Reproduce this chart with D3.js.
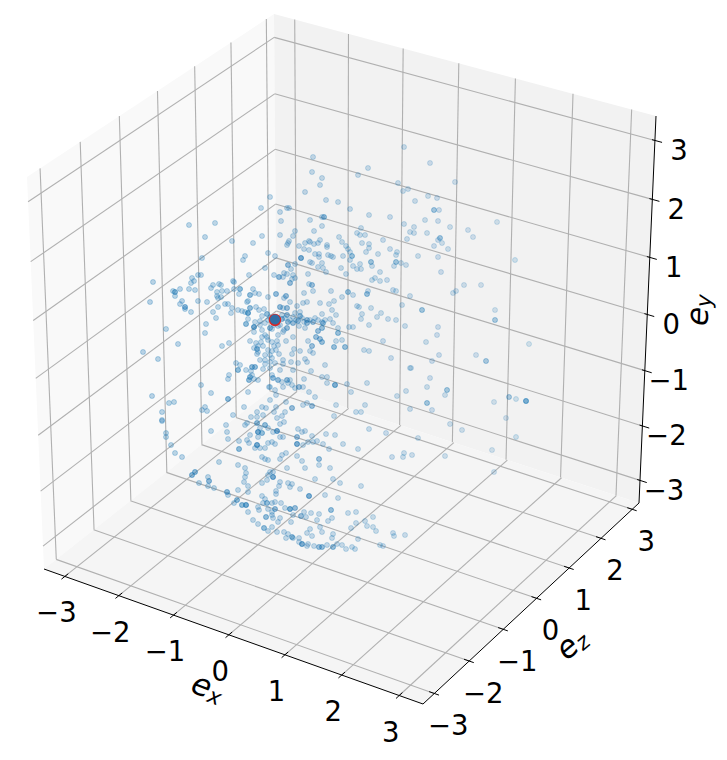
<!DOCTYPE html>
<html>
<head>
<meta charset="utf-8">
<style>
    html, body { margin: 0; background: #fff; }
    text { font-family: "DejaVu Sans", sans-serif; fill: #000; }
</style>
<script src="https://cdn.jsdelivr.net/npm/d3@7/dist/d3.min.js"></script>
</head>
<body>
<svg id="chart" width="727" height="760"></svg>
<script>
// Axis values
var xTicks = [-3, -2, -1, 0, 1, 2, 3];
var yTicks = [-3, -2, -1, 0, 1, 2, 3];
var zTicks = [-3, -2, -1, 0, 1, 2, 3];
var xLimits = [-3.39, 3.41];
var yLimits = [-3.42, 3.41];
var zLimits = [-3.32, 3.22];

// The picture only shows the cloud after projection, so points are read as
// [viewX, viewY, overlapCount] in the projected plane of the camera
var cloudUpperLeft = [[-1.51,1.15],[-1.25,1.17],[-1.35,1.03],[-.79,1.32],[-.70,1.43],[-1.08,.99],[-.87,.97],[-.78,1.04],[-.72,.87],[-.95,.84],[-.97,.80],[-1.38,.82],[-.75,.72],[-.91,.65],[-1.48,.62],[-1.42,.65],[-1.39,.65],[-1.07,.59]];

var cloudUpperMiddle = [[-.27,1.83],[.64,1.93],[-.28,1.68],[-.18,1.62],[-.20,1.55],[.18,1.65],[.28,1.72],[.58,1.57],[.68,1.51],[.63,1.49],[-.35,1.48],[-.14,1.40],[-.02,1.38],[.10,1.31],[-.53,1.32],[-.51,1.32],[-.60,1.28],[-.59,1.19],[-.30,1.20],[-.18,1.23],[-.16,1.23,2],[.29,1.25],[.50,1.23],[.64,1.16],[-.18,1.14],[-.26,1.09],[-.45,1.09],[-.47,1.04],[-.60,1.05],[.21,1.12],[.17,1.07],[.20,1.05],[.25,1.05],[-.01,1.03],[.70,1.08],[.67,1.01],[.43,1.00],[-.51,.99],[-.53,.95],[-.52,.97],[-.35,.97],[-.31,.99],[-.30,.98],[-.26,.96],[-.22,.97],[-.20,1.00],[-.13,.95],[-.13,.93],[-.41,.94],[.02,.98],[.06,.94],[.08,.91],[.22,.97],[.29,.96],[.29,.92],[.50,.91],[.26,.88],[-.36,.91],[-.31,.90],[-.25,.86],[-.21,.86],[-.21,.83],[-.12,.85],[-.09,.84],[-.07,.83],[.03,.84],[.10,.88],[.12,.84,2],[.10,.80],[.38,.86],[.57,.88],[.56,.85],[-.65,.84],[-.39,.82,3],[-.30,.78],[-.28,.77],[-.18,.77],[-.22,.73],[-.17,.72],[-.14,.68],[.01,.72],[.13,.74],[.20,.76],[.31,.78,2],[.32,.74],[.56,.78,2],[.54,.74],[.61,.77],[.66,.75],[.17,.71],[.21,.71],[.06,.66],[-.32,.66],[-.52,.75,2],[-.45,.76],[-.49,.71],[-.56,.67],[-.53,.66],[-.47,.65],[-.66,.65],[-.61,.63,2],[-.57,.63],[-.48,.61],[-.45,.62],[.40,.68],[.35,.62],[.32,.60],[.47,.60]];

var cloudUpperRight = [[.90,1.77],[1.15,1.58],[.88,1.44],[.97,1.42],[.75,1.39],[.94,1.30,2],[.99,1.30],[.85,1.20],[.98,1.19],[1.10,1.13],[1.28,1.10],[1.57,1.18],[.74,1.13],[.74,1.07],[.87,1.07],[1.33,1.03],[1.00,1.02,2],[.98,1.00],[1.02,.97],[.94,.94],[1.08,.91],[.78,.84],[.98,.83],[1.75,.80],[1.01,.68]];

var cloudMiddleLeft = [[-1.87,.58],[-1.90,.38],[-1.67,.49],[-1.65,.48,2],[-1.65,.44],[-1.60,.51],[-1.51,.51],[-1.49,.57],[-1.46,.59],[-1.45,.50],[-1.58,.39],[-1.60,.36],[-1.55,.33,2],[-1.55,.31],[-1.49,.28],[-1.42,.39],[-1.33,.38],[-1.29,.52],[-1.27,.55],[-1.21,.56],[-1.19,.55],[-1.23,.48],[-1.18,.49],[-1.13,.49],[-1.23,.44],[-1.22,.42],[-1.19,.43],[-1.22,.33],[-1.15,.36],[-1.12,.36],[-1.27,.28],[-1.24,.22],[-1.34,.16],[-1.35,.07],[-1.74,.11],[-1.62,-.04],[-1.97,-.12],[-1.82,-.19],[-1.18,-.06],[-1.11,-.03],[-1.06,.58],[-1.06,.51],[-1.01,.46],[-1.00,.51,2],[-.90,.45,2],[-.87,.51],[-.85,.47],[-.81,.46],[-.93,.38],[-.92,.39],[-1.08,.32],[-1.09,.27],[-1.02,.30],[-.98,.29],[-.95,.28],[-.92,.27,3],[-.90,.32,2],[-.84,.33],[-.81,.30],[-.76,.31],[-.72,.43],[-.73,.26,2],[-.78,.24],[-.70,.23],[-.92,.21],[-.94,.16,2],[-.85,.18],[-.86,.13,3],[-.80,.19],[-.86,.08],[-.70,.12,2],[-.90,-.01],[-.78,.03],[-.73,.03],[-.79,-.02],[-.84,-.03],[-.82,-.06],[-.86,-.08],[-.83,-.09,2],[-.77,-.06],[-.83,-.14],[-.82,-.12],[-.75,-.15],[-.80,-.20],[-.70,-.15],[-1.04,-.23],[-1.00,-.25],[-1.02,-.30,2],[-.94,-.30],[-.88,-.27,2],[-.85,-.27,2],[-.89,-.31],[-.75,-.24],[-.77,-.29],[-.70,-.28],[-1.11,-.35],[-1.12,-.39],[-.90,-.37,2],[-.91,-.40,2],[-.86,-.39],[-.82,-.40],[-.88,-.35],[-1.39,-.45],[-1.29,-.53],[-.92,-.52],[-.71,-.47],[-1.88,-.56],[-1.66,-.62],[-1.71,-.63],[-1.12,-.59,2],[-1.35,-.67],[-1.38,-.70],[-1.33,-.71],[-1.78,-.72],[-.96,-.67],[-1.07,-.75],[-.83,-.72],[-.78,-.67],[-.74,-.68],[-.89,-.77],[-.77,-.75],[-.83,-.77],[-1.78,-.80]];

var cloudCenter = [[-.50,.57,2],[-.64,.46,2],[-.54,.44,2],[-.56,.42],[-.60,.33,2],[-.57,.32],[-.53,.32,2],[-.50,.38],[-.43,.34],[-.36,.47],[-.27,.49],[-.31,.56],[-.28,.55,2],[-.37,.37],[-.33,.38],[-.20,.37],[-.09,.49],[.02,.43],[.08,.48,2],[.13,.45],[.28,.49],[.27,.46,2],[.40,.59],[.53,.50],[.56,.49],[.62,.35],[-.11,.36],[-.06,.39],[-.08,.30],[-.04,.25],[-.07,.17],[-.18,.26],[-.10,.21],[.17,.34],[.19,.33],[.22,.26],[.21,.21],[.31,.32],[.41,.27],[.37,.23],[.48,.21],[.56,.20],[.29,.15],[.65,.14],[.09,.13],[.13,.13],[-.02,.12],[-.02,.07,2],[-.17,.17,2],[-.18,.12,2],[-.22,.09,2],[-.24,.03,2],[-.20,.01,2],[-.18,-.02,2],[-.27,.18,2],[-.33,.20,2],[-.40,.24,2],[-.42,.19,2],[-.47,.17,2],[-.53,.25,2],[-.52,.18,2],[-.58,.21,2],[-.33,.17,2],[-.41,.14],[-.35,.12],[-.53,.12,2],[-.57,.08],[-.62,.05],[-.68,.11],[-.47,.03],[-.54,-.01],[-.63,-.01],[-.66,-.06],[-.32,-.01],[-.28,-.06,2],[-.06,-.07,2],[.05,-.07,2],[.02,0],[-.04,-.01],[.43,-.01],[.24,-.10],[.29,-.11],[.51,-.18],[.70,-.28],[-.30,-.11],[-.27,-.13],[-.40,-.11],[-.46,-.09],[-.48,-.14],[-.61,-.14],[-.68,-.11],[-.68,-.18],[-.65,-.23],[-.57,-.20],[-.57,-.24],[-.49,-.22],[-.42,-.23],[-.35,-.19],[-.33,-.22],[-.15,-.25],[-.29,-.31],[-.60,-.30],[-.68,-.35],[-.67,-.38,2],[-.47,-.30],[-.62,-.40,2],[-.58,-.42],[-.53,-.40,2],[-.52,-.43],[-.50,-.40],[-.57,-.47],[-.48,-.45],[-.45,-.48],[-.41,-.47,2],[-.37,-.47],[-.36,-.39],[-.18,-.37],[-.13,-.37],[-.13,-.43],[-.05,-.45,3],[.07,-.44],[.27,-.43],[.11,-.52],[-.31,-.52],[-.25,-.57],[.57,-.56],[.66,-.51],[-.37,-.65],[-.33,-.63],[-.28,-.66,2],[-.54,-.62],[-.48,-.68,2],[-.64,-.67],[-.66,-.72],[-.55,-.72],[-.58,-.76],[-.63,-.78],[-.04,-.65],[.25,-.65],[.16,-.72],[.21,-.72],[-.06,-.76],[-.70,-.47],[-.70,-.60],[-.65,-.50],[-.64,-.55]];

var cloudDenseBand = [[-.58,.25],[-.55,.22],[-.50,.20],[-.47,.23],[-.44,.20],[-.38,.22],[-.36,.18],[-.30,.20],[-.25,.22],[-.22,.20],[-.18,.18],[-.15,.20],[-.45,.27],[-.40,.28],[-.60,.15],[-.56,.10],[-.62,.14],[-.66,.15],[-.72,.20],[-.75,.17],[-.80,.15],[-.78,.10],[-.75,.05],[-.72,0],[-.68,-.02],[-.62,-.05],[-.72,-.10],[-.75,-.20],[-.70,-.22],[-.64,-.10]];

var cloudMiddleRight = [[.70,.44],[.82,.30,2],[1.13,.47],[1.16,.49],[1.24,.55],[1.41,.55],[1.55,.30],[1.55,.20,2],[.98,.13],[.97,.05],[.86,-.02],[1.89,-.04],[.99,-.15],[.92,-.21],[1.36,-.15],[1.46,-.21,2],[.71,-.28],[.90,-.38],[.87,-.47],[1.07,-.50,2],[1.05,-.55],[.87,-.63,2],[.92,-.70],[1.54,-.62],[1.69,-.57,2],[1.76,-.59],[1.86,-.61,4],[1.66,-.78],[.70,-.69]];

var cloudLowerLeft = [[-1.78,-.81],[-1.74,-.93],[-1.74,-.97],[-1.69,-1.05],[-1.65,-1.13],[-1.58,-1.17],[-1.29,-.91],[-1.14,-.85],[-1.13,-.92],[-1.12,-.99],[-1.21,-1.22],[-1.01,-1.01],[-1.01,-1.09,2],[-1.02,-1.25],[-.95,-1.28],[-.94,-1.33],[-.95,-1.37],[-.96,-1.42],[-.92,-1.46],[-1.02,-1.50],[-.92,-1.52],[-.93,-1.00],[-.90,-.95],[-.95,-.85],[-.93,-.83],[-.83,-.83,2],[-.80,-.88],[-.82,-.92,3],[-.78,-.93,2],[-.82,-.97],[-.75,-.85,2],[-.72,-.88],[-.91,-1.03],[-.83,-1.05,3],[-.85,-1.08],[-.80,-1.08],[-.72,-1.03],[-.75,-1.08],[-.78,-1.17],[-.75,-1.19],[-.72,-1.20],[-1.48,-1.35,2],[-1.45,-1.32,2],[-1.41,-1.43],[-1.32,-1.37],[-1.31,-1.41,2],[-1.32,-1.46],[-1.26,-1.48],[-1.13,-1.52,2],[-1.12,-1.55],[-1.03,-1.60,2],[-1.06,-1.63],[-.98,-1.65,2],[-.94,-1.65,3],[-.92,-1.72],[-.87,-1.80],[-.82,-1.84],[-.76,-1.88,2],[-.72,-1.91],[-.82,-1.67],[-.81,-1.70],[-.78,-1.56],[-.75,-1.59],[-.77,-1.63],[-.73,-1.63,2],[-.72,-1.69],[-.74,-1.77,2],[-.78,-1.43],[-.73,-1.40],[-.72,-1.35],[-.70,-1.32]];

var cloudLowerRight = [[-.60,-.84],[-.56,-.82],[-.63,-.91,3],[-.67,-.92],[-.57,-.97],[-.60,-.97],[-.68,-1.02],[-.65,-1.04],[-.42,-.89],[-.38,-.92],[-.35,-.91],[-.43,-.97,2],[-.43,-1.04,3],[-.37,-1.05],[-.32,-1.02],[-.28,-.96],[-.23,-1.01],[-.27,-1.02],[-.17,-1.04],[-.14,-.94],[-.05,-.95],[.03,-1.04],[-.11,-1.09],[.18,-1.09],[.29,-.89],[.46,-.93],[.64,-1.13],[.63,-1.17],[.52,-1.17],[-.60,-1.19],[-.58,-1.15],[-.54,-1.13],[-.43,-1.16],[-.38,-1.21],[-.21,-1.19,2],[-.21,-1.25],[-.35,-1.28],[-.53,-1.28],[-.10,-1.28],[-.67,-1.32],[-.67,-1.37,3],[-.60,-1.42],[-.61,-1.46],[-.50,-1.47],[-.48,-1.44],[-.52,-1.43],[-.40,-1.49],[-.25,-1.39],[-.07,-1.39],[0,-1.43],[.21,-1.46],[-.64,-1.51],[-.64,-1.54],[-.31,-1.56,3],[-.15,-1.55],[-.02,-1.58],[-.68,-1.63],[-.65,-1.62],[-.59,-1.63],[-.55,-1.68],[-.50,-1.69,3],[-.45,-1.68,2],[-.65,-1.69,2],[-.68,-1.72],[-.47,-1.75],[-.36,-1.72],[-.29,-1.73],[-.39,-1.76,2],[-.34,-1.77],[-.21,-1.74],[-.09,-1.70,2],[-.12,-1.81],[-.08,-1.78],[.08,-1.73],[.16,-1.72],[.33,-1.77],[-.68,-1.75],[-.67,-1.78],[-.60,-1.78],[-.62,-1.82],[-.49,-1.82],[-.23,-1.80],[.16,-1.83],[.25,-1.81],[.27,-1.86],[.33,-1.87],[.36,-1.91],[.11,-1.88],[-.30,-1.89],[-.20,-1.87],[-.18,-1.92],[-.33,-1.93],[-.68,-1.87],[-.63,-1.92],[-.56,-1.92],[-.52,-1.94],[-.48,-1.97,2],[-.54,-1.98],[-.47,-1.98],[-.41,-1.98],[-.28,-1.96],[-.07,-1.94],[-.08,-1.98],[.54,-1.96],[.65,-1.95],[.18,-1.99],[-.41,-2.02],[-.38,-2.04,3],[-.32,-2.04],[-.26,-2.06],[-.21,-2.07,2],[-.18,-2.07,2],[-.13,-2.05],[-.07,-2.07,2],[-.03,-2.04],[.02,-2.05],[.06,-2.09],[.12,-2.07],[.15,-2.09],[.40,-2.05],[.43,-2.06],[-.33,-2.06]];

var cloudFarRight = [[.78,-.98],[1.10,-.84],[1.05,-1.16],[1.22,-.90],[1.52,-1.10],[1.76,-.97],[1.54,-1.32],[.72,-1.15],[.53,-1.93]];

// The one highlighted sample at the origin of the embedding
var markerView = [-.65, .20];

(function () {

    var width = 727, height = 760;
    var svg = d3.select("#chart");

    // Soft edge of the resampled original
    svg.append("defs").append("filter")
        .attr("id", "soft")
        .append("feGaussianBlur")
        .attr("stdDeviation", 0.35);

    // Corners of the box as they sit on the page
    var corner = {
        left: [44, 569],
        front: [423, 704],
        right: [639, 503],
        back: [277, 385],
        leftTop: [27, 177],
        backTop: [274, 14],
        rightTop: [656, 116]
    };

    // Plane through four corners: p00, p10, p11, p01 for the unit square
    function planeMap(p00, p10, p11, p01) {
        var dx1 = p10[0] - p11[0], dx2 = p01[0] - p11[0], sx = p00[0] - p10[0] + p11[0] - p01[0];
        var dy1 = p10[1] - p11[1], dy2 = p01[1] - p11[1], sy = p00[1] - p10[1] + p11[1] - p01[1];
        var det = dx1 * dy2 - dx2 * dy1;
        var g = (sx * dy2 - dx2 * sy) / det;
        var h = (dx1 * sy - sx * dy1) / det;
        var a = p10[0] - p00[0] + g * p10[0], b = p01[0] - p00[0] + h * p01[0], c = p00[0];
        var d = p10[1] - p00[1] + g * p10[1], e = p01[1] - p00[1] + h * p01[1], f = p00[1];
        return function (s, t) {
            var w = g * s + h * t + 1;
            return [(a * s + b * t + c) / w, (d * s + e * t + f) / w];
        };
    }

    var xUnit = d3.scaleLinear().domain(xLimits).range([0, 1]);
    var yUnit = d3.scaleLinear().domain(yLimits).range([0, 1]);
    var zUnit = d3.scaleLinear().domain(zLimits).range([0, 1]);

    var floorMap = planeMap(corner.left, corner.front, corner.right, corner.back);
    var leftMap = planeMap(corner.left, corner.back, corner.backTop, corner.leftTop);
    var backMap = planeMap(corner.back, corner.right, corner.rightTop, corner.backTop);

    function floorAt(x, z) { return floorMap(xUnit(x), zUnit(z)); }
    function leftAt(z, y) { return leftMap(zUnit(z), yUnit(y)); }
    function backAt(x, y) { return backMap(xUnit(x), yUnit(y)); }

    var line = d3.line();

    function drawSegments(group, segments, color, strokeWidth) {
        group.selectAll("path")
            .data(segments)
            .enter().append("path")
            .attr("d", line)
            .attr("fill", "none")
            .attr("stroke", color)
            .attr("stroke-width", strokeWidth);
    }

    // Panes
    var panes = [
        { pts: [corner.left, corner.back, corner.backTop, corner.leftTop], fill: "#f9f9f9" },
        { pts: [corner.back, corner.right, corner.rightTop, corner.backTop], fill: "#f2f2f2" },
        { pts: [corner.left, corner.front, corner.right, corner.back], fill: "#f5f5f5" }
    ];
    svg.append("g").selectAll("path")
        .data(panes)
        .enter().append("path")
        .attr("d", function (d) { return line(d.pts) + "Z"; })
        .attr("fill", function (d) { return d.fill; });

    // Grid lines on the three panes
    var grid = [];
    xTicks.forEach(function (x) {
        grid.push([floorAt(x, zLimits[0]), floorAt(x, zLimits[1])]);
        grid.push([backAt(x, yLimits[0]), backAt(x, yLimits[1])]);
    });
    zTicks.forEach(function (z) {
        grid.push([floorAt(xLimits[0], z), floorAt(xLimits[1], z)]);
        grid.push([leftAt(z, yLimits[0]), leftAt(z, yLimits[1])]);
    });
    yTicks.forEach(function (y) {
        grid.push([leftAt(zLimits[0], y), leftAt(zLimits[1], y)]);
        grid.push([backAt(xLimits[0], y), backAt(xLimits[1], y)]);
    });
    drawSegments(svg.append("g"), grid, "#b0b0b0", 1.1);

    // Axis lines and tick marks
    drawSegments(svg.append("g"), [
        [corner.left, corner.front],
        [corner.front, corner.right],
        [corner.right, corner.rightTop]
    ], "#000", 1);

    var tickSegments = [];
    xTicks.forEach(function (x) {
        tickSegments.push([floorAt(x, zLimits[0] - 0.09), floorAt(x, zLimits[0] + 0.09)]);
    });
    zTicks.forEach(function (z) {
        tickSegments.push([floorAt(xLimits[1] - 0.09, z), floorAt(xLimits[1] + 0.08, z)]);
    });
    yTicks.forEach(function (y) {
        tickSegments.push([backAt(xLimits[1] - 0.05, y), backAt(xLimits[1] + 0.12, y)]);
    });
    drawSegments(svg.append("g"), tickSegments, "#000", 1);

    // Scatter
    var viewX = d3.scaleLinear().domain([-3.4, 3.87]).range([0, width]);
    var viewY = d3.scaleLinear().domain([3.4, -4.2]).range([0, height]);
    var shade = d3.scaleLinear().domain([-2, 2]).range([0.3, 0.17]);

    var cloud = [].concat(cloudUpperLeft, cloudUpperMiddle, cloudUpperRight, cloudMiddleLeft,
        cloudCenter, cloudDenseBand, cloudMiddleRight, cloudLowerLeft, cloudLowerRight, cloudFarRight);

    var samples = [];
    cloud.forEach(function (p) {
        d3.range(p[2] || 1).forEach(function () { samples.push(p); });
    });

    svg.append("g")
        .attr("filter", "url(#soft)")
        .selectAll("circle")
        .data(samples)
        .enter().append("circle")
        .attr("cx", function (d) { return viewX(d[0]); })
        .attr("cy", function (d) { return viewY(d[1]); })
        .attr("r", 2.5)
        .attr("fill", "#1f77b4")
        .attr("stroke", "#1f77b4")
        .attr("stroke-width", 1)
        .attr("fill-opacity", function (d) { return shade(d[0]); })
        .attr("stroke-opacity", function (d) { return shade(d[0]); });

    // Highlighted sample
    svg.append("circle")
        .attr("cx", viewX(markerView[0]))
        .attr("cy", viewY(markerView[1]))
        .attr("r", 6.2)
        .attr("fill", "#d62728");
    svg.append("circle")
        .attr("cx", viewX(markerView[0]))
        .attr("cy", viewY(markerView[1]) - 0.5)
        .attr("r", 5)
        .attr("fill", "#1f77b4")
        .attr("fill-opacity", 0.9);

    // Tick labels
    var tickFont = 27.5;

    function tickLabel(group, pos, value, dx, dy) {
        group.append("text")
            .attr("x", pos[0] + dx)
            .attr("y", pos[1] + dy)
            .attr("text-anchor", "middle")
            .attr("dominant-baseline", "central")
            .attr("font-size", tickFont)
            .text(d3.format("d")(value).replace("-", "\u2212"));
    }

    var labels = svg.append("g");
    xTicks.forEach(function (x) { tickLabel(labels, floorAt(x, zLimits[0]), x, -8.5, 36); });
    zTicks.forEach(function (z) { tickLabel(labels, floorAt(xLimits[1], z), z, 14, 32); });
    yTicks.forEach(function (y) { tickLabel(labels, backAt(xLimits[1], y), y, 24, 9.5); });

    // Axis titles
    function axisTitle(x, y, angle, sub) {
        var titleFont = 31;
        var t = svg.append("text")
            .attr("transform", "translate(" + x + "," + y + ") rotate(" + angle + ")")
            .attr("text-anchor", "middle")
            .attr("dominant-baseline", "central")
            .attr("font-size", titleFont)
            .attr("font-style", "italic");
        t.append("tspan").text("e");
        t.append("tspan")
            .attr("font-size", titleFont * 0.7)
            .attr("dy", 6)
            .text(sub);
    }

    axisTitle(208, 687, 21, "x");
    axisTitle(571, 643, -40, "z");
    axisTitle(697, 310, -88, "y");

})();
</script>
</body>
</html>
